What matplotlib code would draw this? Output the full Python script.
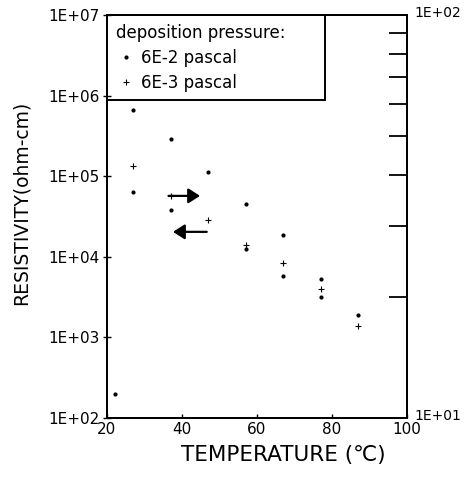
import matplotlib
matplotlib.use("Agg")
import matplotlib.pyplot as plt
from matplotlib.patches import Rectangle
from matplotlib.ticker import FixedLocator, FixedFormatter, NullFormatter
from matplotlib.transforms import ScaledTranslation

# ---- data ----
temp_6e2 = [22, 27, 27, 37, 37, 47, 57, 57, 67, 67, 77, 77, 87]
res_6e2 = [2.0e2, 6.6e5, 6.4e4, 2.9e5, 3.8e4, 1.12e5, 4.5e4, 1.24e4,
           1.86e4, 5.8e3, 5.3e3, 3.2e3, 1.9e3]

temp_6e3 = [27, 37, 47, 57, 67, 77, 87]
res_6e3 = [1.35e5, 5.7e4, 2.9e4, 1.4e4, 8.3e3, 3.95e3, 1.37e3]

x_ticks = [20, 40, 60, 80, 100]
x_tick_labels = ["20", "40", "60", "80", "100"]
y_ticks = [1e2, 1e3, 1e4, 1e5, 1e6, 1e7]
y_tick_labels = ["1E+02", "1E+03", "1E+04", "1E+05", "1E+06", "1E+07"]
y2_ticks = [10, 100]
y2_tick_labels = ["1E+01", "1E+02"]
y2_minor = [20, 30, 40, 50, 60, 70, 80, 90]

series_labels = ["6E-2 pascal", "6E-3 pascal"]
legend_title = "deposition pressure:"

# ---- figure ----
plt.rcParams['font.family'] = ['DejaVu Sans']
fig = plt.figure(figsize=(4.75, 4.79), dpi=100)
ax = fig.add_axes([107 / 475, 61 / 479, 300 / 475, 403 / 479])

ax.set_yscale('log')
ax.set_xlim(20, 100)
ax.set_ylim(1e2, 1e7)

ax.plot(temp_6e2, res_6e2, linestyle='none', marker='o', markersize=2.0,
        color='black', label=series_labels[0])
ax.plot(temp_6e3, res_6e3, linestyle='none', marker='+', markersize=5,
        markeredgewidth=0.8, color='black', label=series_labels[1])

# hysteresis arrows
ax.annotate('', xy=(44.8, 5.7e4), xytext=(36.4, 5.7e4),
            arrowprops=dict(arrowstyle='-|>,head_length=0.7,head_width=0.45',
                            color='black', lw=1.6, shrinkA=0, shrinkB=0))
ax.annotate('', xy=(37.6, 2.04e4), xytext=(46.6, 2.04e4),
            arrowprops=dict(arrowstyle='-|>,head_length=0.7,head_width=0.45',
                            color='black', lw=1.6, shrinkA=0, shrinkB=0))

# ticks
ax.xaxis.set_major_locator(FixedLocator(x_ticks))
ax.xaxis.set_major_formatter(FixedFormatter(x_tick_labels))
ax.yaxis.set_major_locator(FixedLocator(y_ticks))
ax.yaxis.set_major_formatter(FixedFormatter(y_tick_labels))
ax.yaxis.set_minor_locator(FixedLocator([]))
ax.yaxis.set_minor_formatter(NullFormatter())
ax.tick_params(axis='y', which='major', direction='inout', length=6, width=1,
               pad=2, labelsize=11)
ax.tick_params(axis='x', which='major', direction='in', length=3, width=1,
               pad=3.2, labelsize=11)
for s in ax.spines.values():
    s.set_linewidth(1.4)

# right axis
ax2 = ax.twinx()
ax2.set_yscale('log')
ax2.set_ylim(10, 100)
ax2.yaxis.set_major_locator(FixedLocator(y2_ticks))
ax2.yaxis.set_major_formatter(FixedFormatter(y2_tick_labels))
ax2.yaxis.set_minor_locator(FixedLocator(y2_minor))
ax2.yaxis.set_minor_formatter(NullFormatter())
ax2.tick_params(axis='y', which='major', length=0, pad=5, labelsize=10)
ax2.tick_params(axis='y', which='minor', direction='in', length=13, width=1.3)
for s in ax2.spines.values():
    s.set_linewidth(1.4)
shift_up = ScaledTranslation(0, 4 / 100, fig.dpi_scale_trans)
for lab in ax2.get_yticklabels():
    lab.set_transform(lab.get_transform() + shift_up)

# labels
ax.set_xlabel("TEMPERATURE (\u2103)", fontsize=15.5)
ax.xaxis.label.set_va('center')
ax.xaxis.set_label_coords(0.588, -0.093)
ax.set_ylabel("RESISTIVITY(ohm-cm)", fontsize=13.5)
ax.yaxis.label.set_va('center')
ax.yaxis.set_label_coords(-0.285, 0.535)

# legend box
ax.add_patch(Rectangle((0, 0.789), 0.727, 0.211, transform=ax.transAxes,
                       fill=False, edgecolor='black', linewidth=1.4,
                       zorder=5, clip_on=False))
leg = ax.legend(loc='upper left', bbox_to_anchor=(0, 1), borderaxespad=0,
                frameon=False, title=legend_title, title_fontsize=12,
                fontsize=12, alignment='left', borderpad=0.55,
                handlelength=1.2, handletextpad=0.3, labelspacing=0.4)

fig.savefig("out.png", dpi=100)
